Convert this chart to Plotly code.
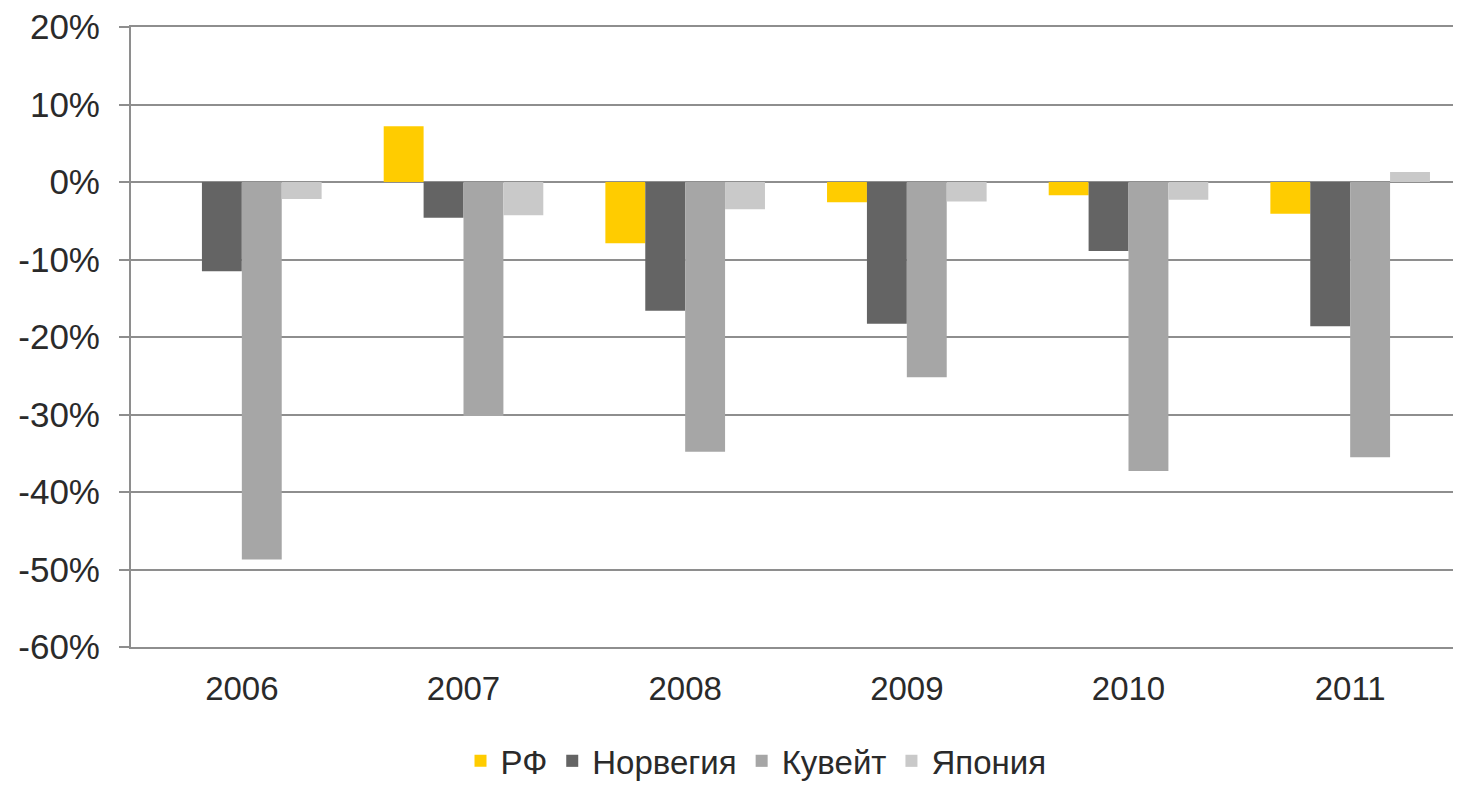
import plotly.graph_objects as go

years = ["2006", "2007", "2008", "2009", "2010", "2011"]
series_names = ["РФ", "Норвегия", "Кувейт", "Япония"]
rf = [0.0, 7.2, -7.9, -2.6, -1.7, -4.1]
norway = [-11.5, -4.6, -16.6, -18.3, -8.9, -18.6]
kuwait = [-48.7, -30.2, -34.8, -25.2, -37.3, -35.5]
japan = [-2.2, -4.3, -3.5, -2.5, -2.3, 1.3]
colors = ["#FFCC00", "#646464", "#A6A6A6", "#C9C9C9"]
y_ticks = [20, 10, 0, -10, -20, -30, -40, -50, -60]
y_tick_text = ["20%", "10%", "0%", "-10%", "-20%", "-30%", "-40%", "-50%", "-60%"]

FONT = "Liberation Sans, Arial, sans-serif"
GRID = "#8E8E8E"
TXT = "#2a2a2a"

fig = go.Figure()
for name, vals, col in zip(series_names, [rf, norway, kuwait, japan], colors):
    fig.add_trace(go.Bar(x=years, y=vals, name=name, marker=dict(color=col, line=dict(width=0))))

n = len(years)
ymin, ymax = y_ticks[-1], y_ticks[0]
zero_pos = (0 - ymin) / (ymax - ymin)

# the page body adds an 8px offset, so the figure is sized to end at the window edge
W, H = 1453, 777

fig.update_layout(
    template="none",
    width=W, height=H,
    margin=dict(l=123, r=0, t=19, b=138, autoexpand=False),
    paper_bgcolor="white", plot_bgcolor="white",
    barmode="group", bargap=0.28, bargroupgap=0,
    font=dict(family=FONT, color=TXT),
    xaxis=dict(
        type="category", range=[-0.5, n - 0.5], automargin=False,
        showgrid=False, showline=True, mirror=True, linecolor=GRID, linewidth=2,
        ticks="", tickfont=dict(size=33, color=TXT),
        ticklabelstandoff=11, ticklabeloverflow="allow",
    ),
    xaxis2=dict(
        overlaying="x", anchor="free", position=zero_pos, side="bottom",
        range=[-0.5, n - 0.5], showgrid=False, zeroline=False,
        showline=True, linecolor="#6e6e6e", linewidth=2,
        ticks="outside", ticklen=12, tickwidth=2, tickcolor="#6e6e6e",
        tickvals=[i - 0.5 for i in range(n + 1)], showticklabels=False,
    ),
    yaxis=dict(
        range=[ymin, ymax], tickvals=y_ticks, ticktext=y_tick_text, automargin=False,
        showgrid=True, gridcolor=GRID, gridwidth=2,
        zeroline=False, showline=True, linecolor=GRID, linewidth=2,
        ticks="outside", ticklen=10, tickwidth=2, tickcolor=GRID,
        tickfont=dict(size=35, color=TXT), ticklabelstandoff=12,
        ticklabeloverflow="allow",
    ),
    legend=dict(
        orientation="h", xref="container", yref="container",
        x=0.5148, xanchor="center", y=0.031, yanchor="middle",
        font=dict(size=33, color=TXT), itemwidth=30, traceorder="normal",
        bgcolor="rgba(0,0,0,0)",
    ),
    showlegend=True,
)

fig.write_html("out.html")
